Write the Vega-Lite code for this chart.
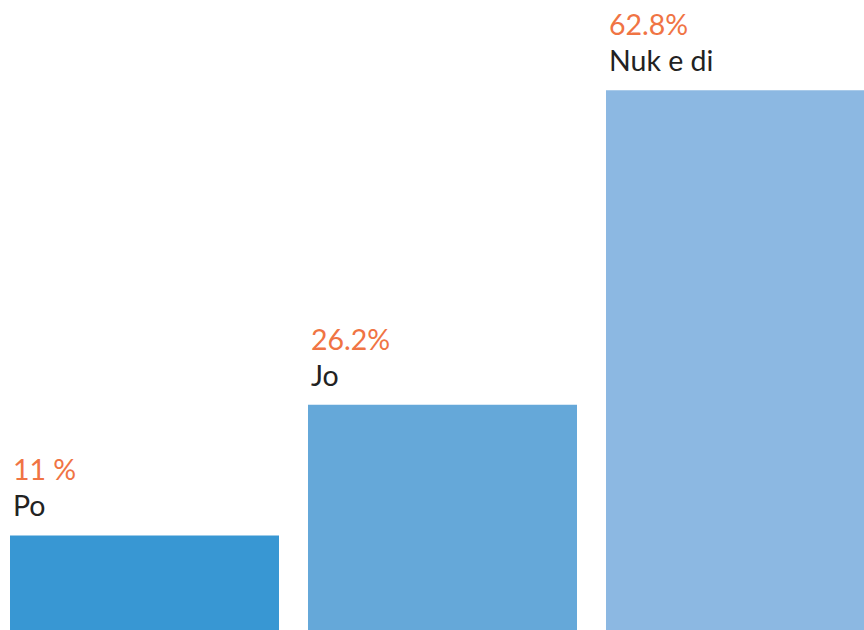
{
  "$schema": "https://vega.github.io/schema/vega-lite/v6.json",
  "width": 864,
  "height": 630,
  "padding": 0,
  "autosize": {"type": "none"},
  "background": "white",
  "config": {"view": {"stroke": null}},
  "data": {"values": [
    {"cat": "Po", "value": 11.0, "label": "11 %", "color": "#3897d3"},
    {"cat": "Jo", "value": 26.2, "label": "26.2%", "color": "#65a8d9"},
    {"cat": "Nuk e di", "value": 62.8, "label": "62.8%", "color": "#8cb8e2"}
  ]},
  "encoding": {
    "x": {"field": "cat", "type": "nominal", "sort": null, "axis": null,
      "scale": {"range": [10, 875], "paddingInner": 0.0973, "paddingOuter": 0}},
    "y": {"field": "value", "type": "quantitative", "axis": null,
      "scale": {"domain": [0, 73.3], "nice": false}}
  },
  "layer": [
    {"mark": {"type": "bar", "clip": false},
      "encoding": {"color": {"field": "color", "type": "nominal", "scale": null, "legend": null}}},
    {"mark": {"type": "text", "align": "left", "baseline": "alphabetic", "dx": 3, "dy": -55, "font": "Lato", "fontSize": 28.5, "color": "#f07444"},
      "encoding": {"x": {"field": "cat", "type": "nominal", "sort": null, "bandPosition": 0}, "text": {"field": "label"}}},
    {"mark": {"type": "text", "align": "left", "baseline": "alphabetic", "dx": 3, "dy": -19, "font": "Lato", "fontSize": 28.5, "color": "#222222"},
      "encoding": {"x": {"field": "cat", "type": "nominal", "sort": null, "bandPosition": 0}, "text": {"field": "cat"}}}
  ]
}
